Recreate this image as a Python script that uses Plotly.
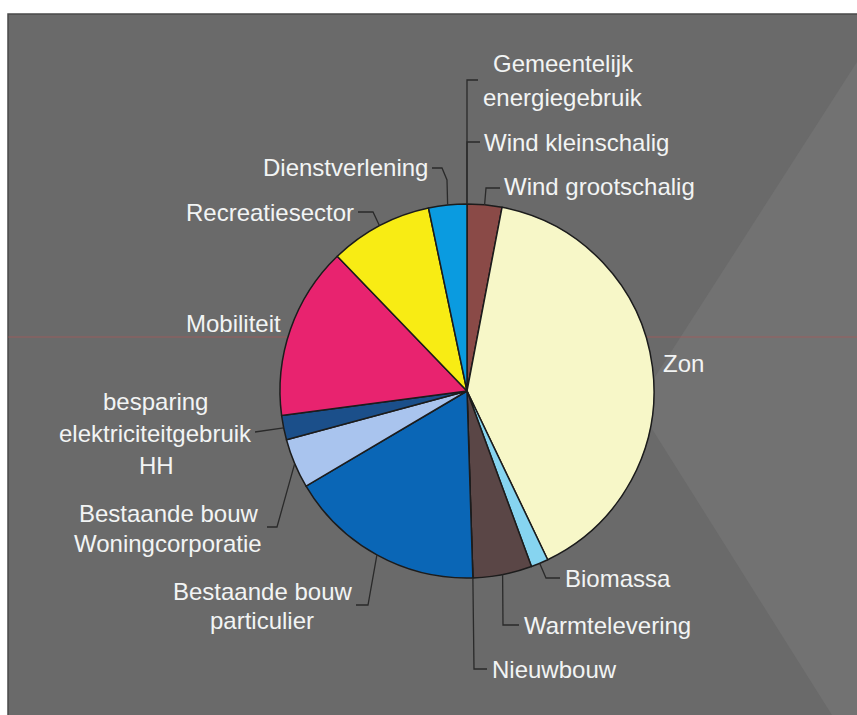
import math
import plotly.graph_objects as go

# ---------------- data ----------------
categories = [
    "Gemeentelijk energiegebruik",
    "Wind kleinschalig",
    "Wind grootschalig",
    "Zon",
    "Biomassa",
    "Warmtelevering",
    "Nieuwbouw",
    "Bestaande bouw particulier",
    "Bestaande bouw Woningcorporatie",
    "besparing elektriciteitgebruik HH",
    "Mobiliteit",
    "Recreatiesector",
    "Dienstverlening",
]
shares = [0.0, 0.0, 3.0, 39.9, 1.5, 5.1, 0.0, 17.0, 4.3, 2.1, 14.9, 8.9, 3.3]
slice_colors = [
    "#7a3c3c", "#7a3c3c", "#8a4a47", "#f7f7c8", "#86d4f0", "#5a4646",
    "#5a4646", "#0a66b6", "#a9c4ee", "#1b4f8a", "#e8236f", "#f8ec14", "#0a9be0",
]

# ---------------- layout helpers ----------------
W, H = 857, 715
CX, CY, R = 467, 391, 187  # pie centre / radius in pixels


def px(x):
    return x / W


def py(y):
    return 1 - y / H


total = sum(shares)
mid_angle = {}
acc = 0.0
for name, v in zip(categories, shares):
    mid_angle[name] = (acc + v / 2) / total * 360.0
    acc += v


def edge(name):
    a = math.radians(mid_angle[name])
    return (CX + R * math.sin(a), CY - R * math.cos(a))


# label layout: text lines (x, y, anchor) and leader elbow points
label_layout = {
    "Gemeentelijk energiegebruik": dict(lines=[("Gemeentelijk", 563, 64, "center"),
                                               ("energiegebruik", 563, 97, "center")],
                                        path=[(467, 80), (478, 80)]),
    "Wind kleinschalig": dict(lines=[("Wind kleinschalig", 482, 142, "left")],
                              path=[(467, 142), (480, 142)]),
    "Wind grootschalig": dict(lines=[("Wind grootschalig", 502, 187, "left")],
                              path=[(486, 188), (500, 188)]),
    "Zon": dict(lines=[("Zon", 661, 363, "left")], path=None),
    "Biomassa": dict(lines=[("Biomassa", 563, 578, "left")],
                     path=[(546, 578), (560, 578)]),
    "Warmtelevering": dict(lines=[("Warmtelevering", 522, 625, "left")],
                           path=[(503, 625), (519, 625)]),
    "Nieuwbouw": dict(lines=[("Nieuwbouw", 490, 669, "left")],
                      path=[(474, 669), (487, 669)]),
    "Bestaande bouw particulier": dict(lines=[("Bestaande bouw", 262, 591, "center"),
                                              ("particulier", 262, 620, "center")],
                                       path=[(368, 605), (356, 605)]),
    "Bestaande bouw Woningcorporatie": dict(lines=[("Bestaande bouw", 168, 513, "center"),
                                                   ("Woningcorporatie", 168, 543, "center")],
                                            path=[(277, 527), (267, 527)]),
    "besparing elektriciteitgebruik HH": dict(lines=[("besparing", 155, 401, "center"),
                                                     ("elektriciteitgebruik", 155, 433, "center"),
                                                     ("HH", 156, 465, "center")],
                                              path=[(255, 432)]),
    "Mobiliteit": dict(lines=[("Mobiliteit", 283, 323, "right")], path=None),
    "Recreatiesector": dict(lines=[("Recreatiesector", 356, 212, "right")],
                            path=[(373, 212), (358, 212)]),
    "Dienstverlening": dict(lines=[("Dienstverlening", 430, 167, "right")],
                            path=[(447, 180), (442, 168), (432, 168)]),
}

fig = go.Figure()
fig.add_trace(go.Pie(
    labels=categories,
    values=shares,
    sort=False,
    direction="clockwise",
    rotation=0,
    marker=dict(colors=slice_colors, line=dict(color="#1c1c1c", width=1.5)),
    textinfo="none",
    textposition="none",
    showlegend=False,
    domain=dict(x=[px(CX - R), px(CX + R)], y=[py(CY + R), py(CY - R)]),
))

shapes = []
# grey panel
shapes.append(dict(type="rect", xref="paper", yref="paper",
                   x0=px(8), x1=px(W + 2), y0=py(H + 2), y1=py(14),
                   fillcolor="#6a6a6a", line=dict(color="#4a4a4a", width=1.5),
                   layer="below"))
# lighter wedge at right
shapes.append(dict(type="path", xref="paper", yref="paper",
                   path="M {} {} L {} {} L {} {} L {} {} Z".format(
                       px(857), py(62), px(637), py(405), px(832), py(715), px(857), py(715)),
                   fillcolor="#727272", line=dict(width=0), layer="below"))
# faint red scan line
shapes.append(dict(type="line", xref="paper", yref="paper",
                   x0=px(8), x1=px(857), y0=py(337), y1=py(337),
                   line=dict(color="rgba(190,80,80,0.55)", width=1), layer="below"))

annotations = []
for name in categories:
    spec = label_layout[name]
    if spec["path"]:
        pts = [edge(name)] + spec["path"]
        d = "M " + " L ".join("{} {}".format(px(x), py(y)) for x, y in pts)
        shapes.append(dict(type="path", xref="paper", yref="paper", path=d,
                           line=dict(color="#2a2a2a", width=1.3), layer="above"))
    for text, x, y, anchor in spec["lines"]:
        annotations.append(dict(text=text, x=px(x), y=py(y), xref="paper", yref="paper",
                                xanchor=anchor, yanchor="middle", showarrow=False,
                                font=dict(family="Liberation Sans, Arial, sans-serif",
                                          size=24, color="#f2f4f4")))

fig.update_layout(
    width=W, height=H,
    margin=dict(l=0, r=0, t=0, b=0),
    paper_bgcolor="#ffffff",
    shapes=shapes,
    annotations=annotations,
)

fig.write_html("out.html", config={"displayModeBar": False},
               post_script="document.body.style.margin='0';")
